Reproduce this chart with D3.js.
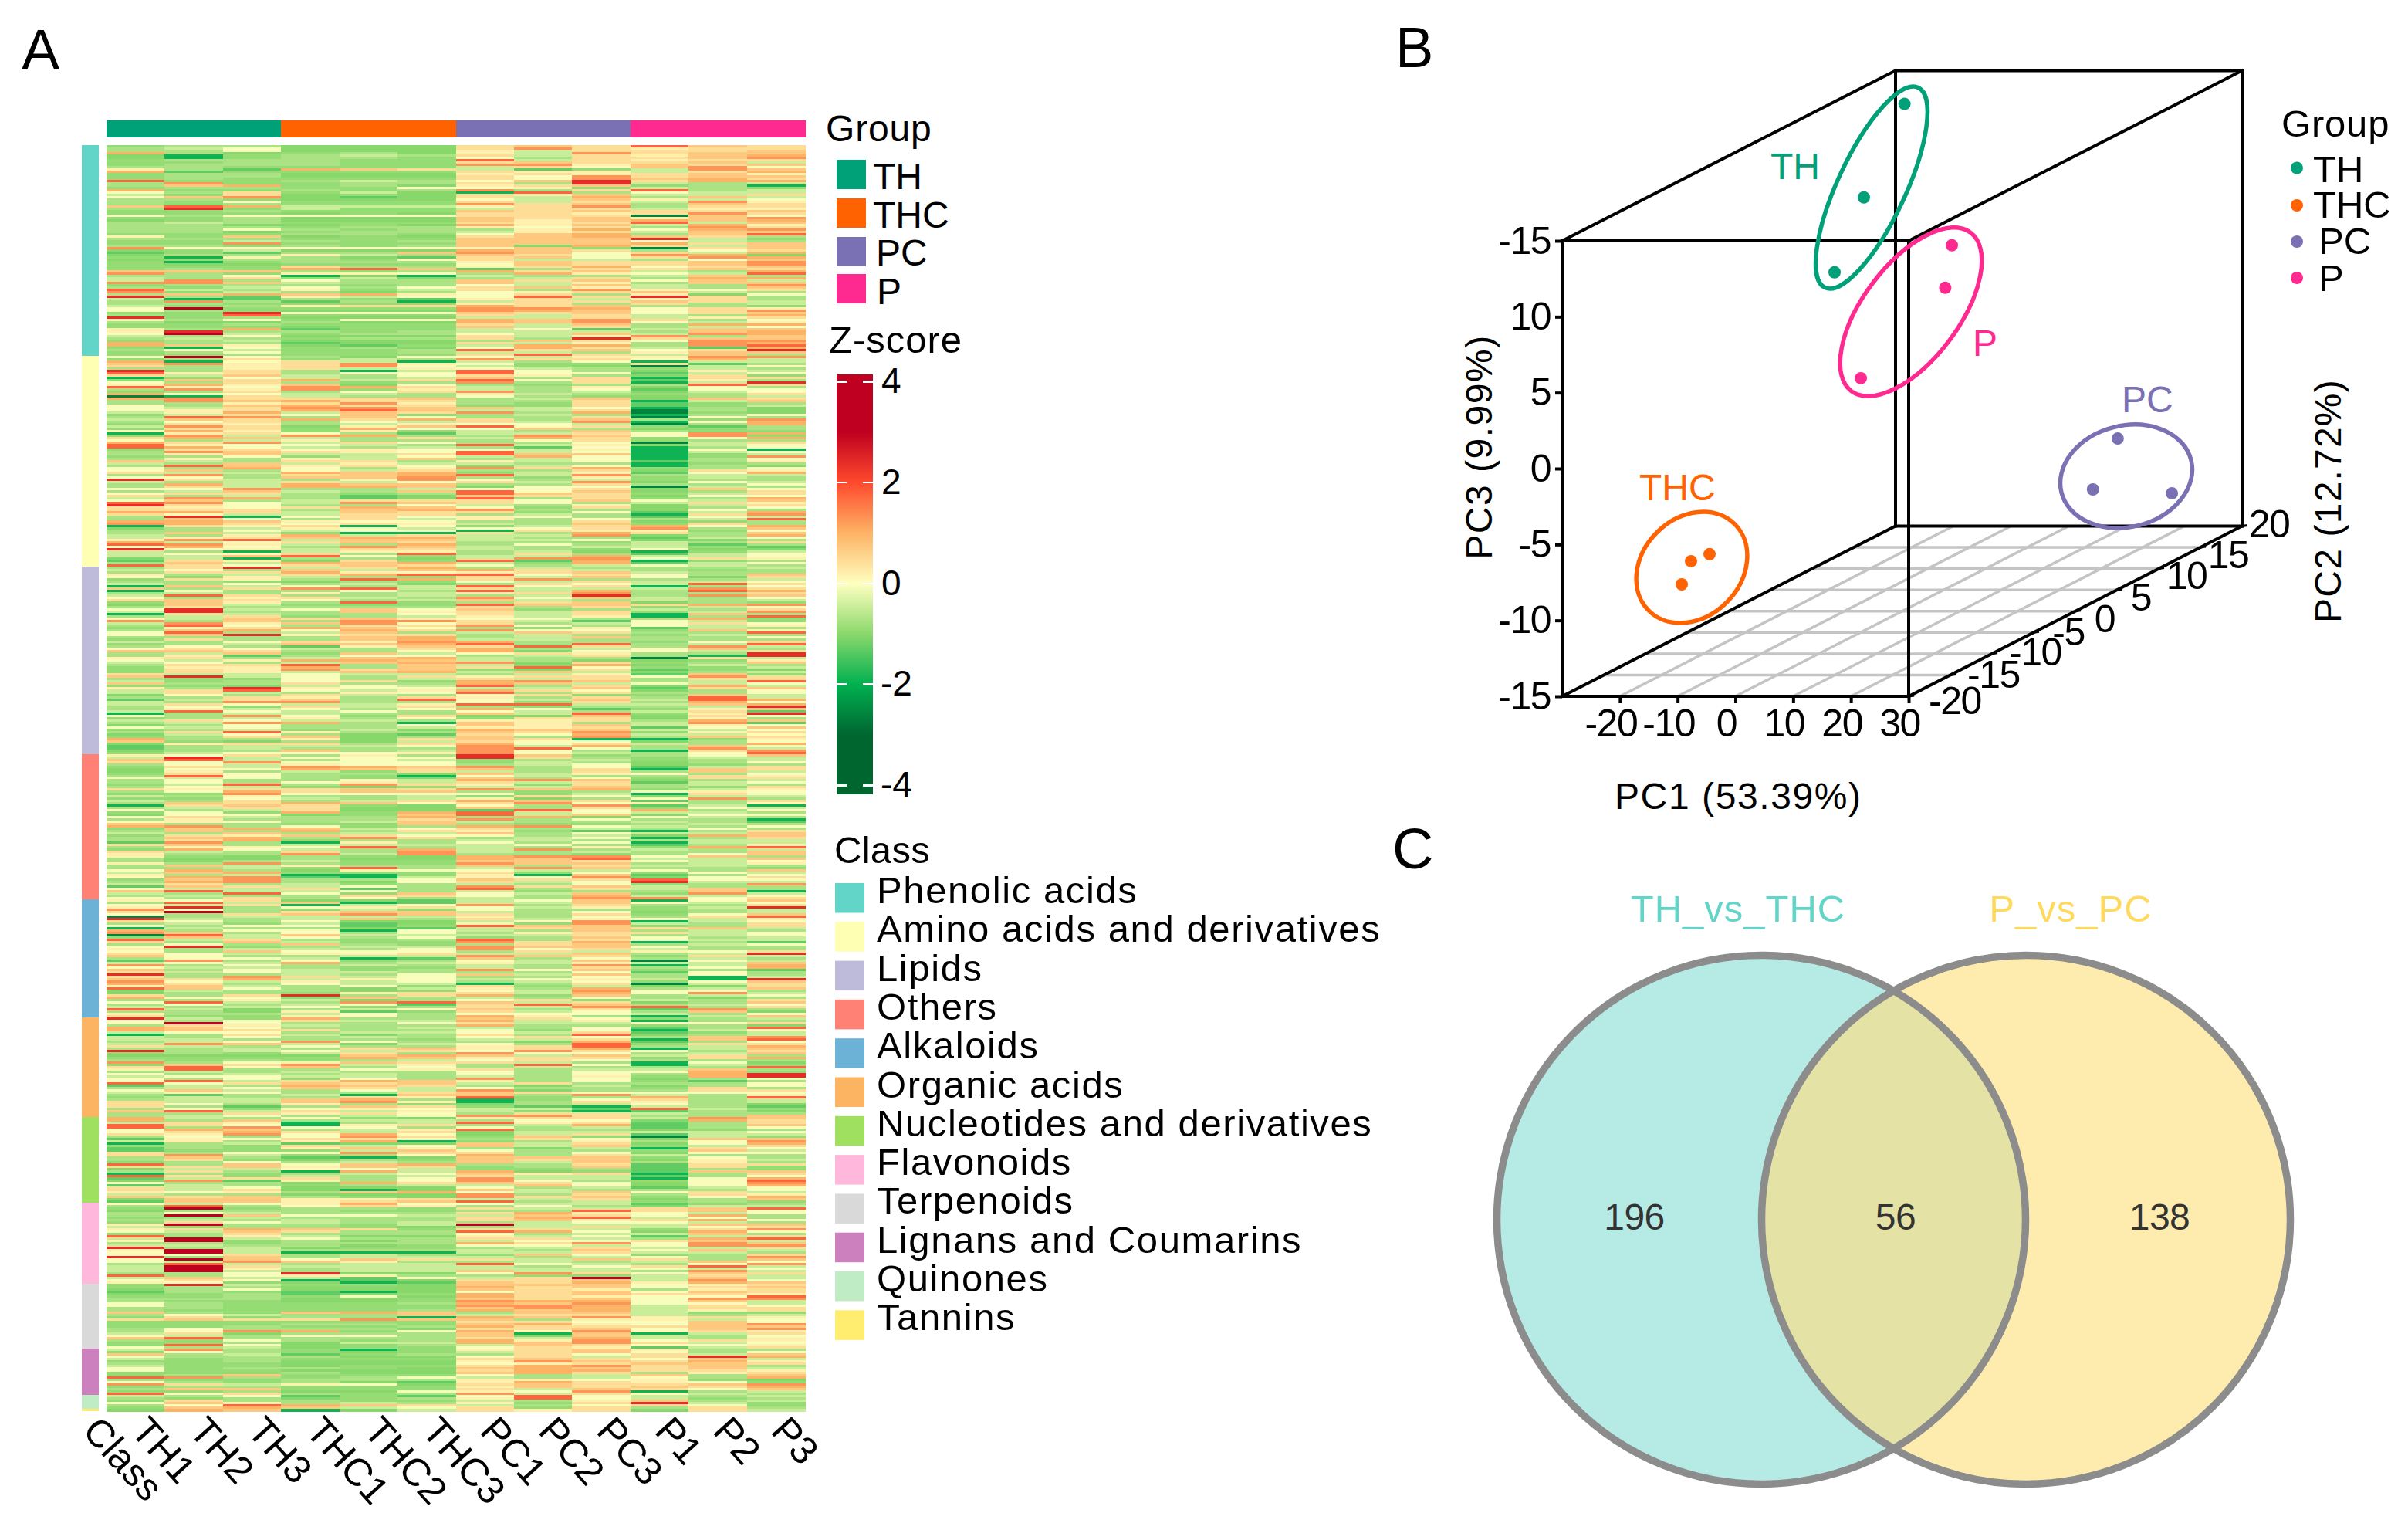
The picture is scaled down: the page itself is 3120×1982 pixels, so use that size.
<!DOCTYPE html>
<html><head><meta charset="utf-8">
<script src="https://cdn.jsdelivr.net/npm/d3@7"></script>
<style>html,body{margin:0;padding:0;background:#fff}svg{display:block}text{font-family:"Liberation Sans",Arial,sans-serif}</style>
</head><body><svg id="c" width="3120" height="1982"></svg>
<script>
const sampleNames=["TH1","TH2","TH3","THC1","THC2","THC3","PC1","PC2","PC3","P1","P2","P3"];
const groupNames=["TH","THC","PC","P"];
const groupColors=["#00A078","#FF6200","#7A70B4","#FF2A8F"];
const classNames=["Phenolic acids","Amino acids and derivatives","Lipids","Others","Alkaloids","Organic acids","Nucleotides and derivatives","Flavonoids","Terpenoids","Lignans and Coumarins","Quinones","Tannins"];
const classColors=["#63D5C8","#FFFFB3","#BEBADA","#FF8074","#6BB2D6","#FDB462","#A0E060","#FFB8DC","#D9D9D9","#CD80BE","#C0ECC5","#FFED6F"];
// each letter is one cell; see levelLetters/levelValues
const levelLetters="abcdefghijklmnop".split("");
const levelValues=[-2.6,-1.9,-1.3,-1.02,-.9,-.72,-.45,-.05,.2,.45,.72,1,1.3,1.75,2.4,3.3];
const zStops=[-4,-3,-2,-1,0,1,2,3,4];
const zColors=["#006630","#006630","#00B050","#8AD86C","#FFFFC0","#FDB365","#FF4A2E","#C00020","#C00020"];
const zTicks=[4,2,0,-2,-4];
const phenolicRows=[
"eff ddd jkj nkj","fgh ddd jmj ijj","ffh ddd igj jjk","lfd efd igm jkk","dbe fgf jgj ikl","dbe ffe hfj jkm","eff fee ngj ijj","eef fee jkj jkg",
"eff fee mmi kjk","ffe eee gjh kmh","ifc lkj gce gmk","lce eee jii gjl","eff ddd iji jki","eff ddd jhm jkk","efe eee jhm klj","nee fgf hko jll",
"fme eff jfo gfg","fkl efd ijk efb","eff eeh hie gfe","lee fef mfj nfg","hfj egd bnf hgg","gej ded jik ggj","hkm dcd jgl fkg","ffe ddd hgk igh",
"feh eee jgj gmi","fef eee mjk fkj","knl ggg ijm fjj","foe gee gjj gii","eef eee kjk jjk","eee ded jji jmj","hfh hhh jjj akh","eef ddd kjk ikm",
"def ddd kik lkl","fgf eee jij ngk","ffd ded lik gli","fff eff ihj fmj","ffh fef fil hlm","ffd eff gij gkk","eee ffe hkl fkn","iek ded jkl kjf",
"fff eee kkk oge","eeg fef kkk hgf","eem eee kkk ljk","ffe fef kdl jgk","mhh hhh ike ajk","deg ddd lkj fhj","cec ffk mkh jgl","dff igf kjh mld",
"ebi fdc jkh jml","def feh jgg fhk","ebe fff ikj jkm","edd eee hkj jkm","eee jff ijl hjk","efe lnk cfj jkj","kkk fef ljk gfl","mfe iih fli hgn",
"ffh bdb gff gkf","gfj egd fgj fll","gmf hff kjk hkg","mmk gff kgi fkk","eff fef hgk gfm","feg hfh jki gfk","ngf ieg jfm ihj","meg fdf hij kgf",
"fkl kli hjf idh","ofc igh hnj ojf","gbc fec ijg ijf","fmf cfb gjj kjg","ffe eee ijf jfg","gef ijj ljk ffe","hpe eee mml hji","hfe ddd mlk hjm",
"eeo hhh kjk hjk","fen eee jgj gfl","oef ddd ggj gij","ifh ehh lkm jfh","fdd fdd lkm hgi","eef eee jgk fll","eee dee kgj fgh","ifl cee ghc gkk",
"iof fef ggg fkl","hpg eff hgk gml","gfh ddd jgi mfk","fgf eff jfo jkk","efg ddd fkj hmm","lff cdd jgi fml","lki dce gll fmn","ebh efd hlj gcl",
"fhg eef njk hjo","efh eef ggf ikk","eef eee jnj gkf"];
const aminoRows=[
"hph fdh hgi imm","efj egf mjj hlg","lbh jgb gfh bgg","kmi jmi hee jcf","jfi jmh ged agh","ffi jgi hgf egf","ofj fbg nhf dig","nij fhh nhh cgh",
"jgk gfh jif dje","beh gfg kfj bjj","ekj lgj nhj cif","hfj fef mfj bgo","ili kdh fef fnj","nih mlj gfi dhf","fmi mei gfh chh","efj fhj mfg dgh",
"lhh ggf igf efj","abj gff hfe dfg","lmj jjk fgk dkj","fmk ljj ffj bgk","ffi jmi fej cef","hfk ljj eej ceg","hgj mmk kgh bfd","hij lnk ggj afd",
"gil gkj mfl aed","egj hke fgf bfh","fnm fkh ffj ahf","gkj ljl jfk fem","fhj fhg jgm bhl","eji fgi hhg afl","gmj dik nhj ecf","ejj elh hkf def",
"hli eie gfk fee","bij hfc ggj hml","emg mlf fmk hme","jlk gfj glj ehl","hfg iff fhj eff","ljm gjh ffh agj","nih hgf ngi dgh","nlh gfg fch bfh",
"ejj hih hgi bhb","fmk jih ngh bgh","fik ggj nkk beg","efh egh glh bem","fif igk fgh bfh","kgf jjf igh cfi",
"gfk gig gff bef","fnk ijh dgh bfd","hfl hfi mjl efh","hkf hgj ffj dji","jgg lkl egi chl","fmf jkl ngm fgg","hhf kkm fei egf","ojg fim hfg eff",
"gfg jgh jgm dhg","flg lkk ffj ffh","fjg llk dhh agf","hhm ffg hhj dkh","fgk gfk nhk dfj","hjj fef nkj egj","jfg fcd kjj dhh","gml fcd nfj efl",
"hkf gjj jhk hgk","nmh gmk jhf gji","ojh ffh gfi dgj","jih jlk hej dfh","jjj fkl mff dhf","llj gkj jeh cgl","jhg gjj fgf bjm","fob hjh ihf chg",
"fkh fjg ifh fgn","llk ihh ffj def","mlj hji gfk ejf","bji jbh egj lhl","dfg ihg hhj mfk","ffh ghh bji ieh","fkg ebb jfl jfk","gfi lgj ggm dfl",
"gij kll gff cgh","imn gkk ggh ddf","lgh jkj ffe gfj","nmi gfl fhf gcf","hlh fmk gfg gec","ohi gjj gfe hdd","gfb gii fgd beg","ghh jfn fjf cgh",
"ggk nhe ggl ggh","dgb ffd gmm hji","cji dje ncl bef","fkg lkl gel cgh","njh jkj hfg hgf"];
const lipidRows=[
"fjo gjl fgf ffg","ghf kgk ljg fef","fjj lih ijk gff","ifg jln nhj hfk","hei gfe jgk hdj","eji fnl jmf ffg","ffe dfe hgj ggh","gfh fgd fjh gnj",
"bkg hfg nhj bfh","kfj mng jgg gmj","bhf fhf ngl fnl","fgf ifg ijm ffj","gnj ffg fgo fmk","hfi jgf mhk gfh","jkj hfg kgf gfg","eki fne fjk dfe",
"dkg eee nkk jlm","fjf fff jfj egh","hog hkh kef gfj","gof fki jgj egm","bjg ffh jgj bkf","fgj efg igi bfn","hgk jki hhf fle","mfk fmm jgc hge",
"gmi kmh jfg hjh","fnh fjj mhf hgi","eij lkh fei cgf","fkl hlj mhh eki","hnf gkf gkj ffn","hko ijj fgf egf","fff fkl fgk ffh","ejf fkl ggf fff",
"gfh jim lff ehj","efg kkl nfn fgn","fhf cik jnj fmg","hjh gfj lfg hkf","kkj ffh ldh hgj","fgk ekg hji ffo","fic fhh fgj fbo","ijf gkl gff ajg",
"hgi llk gfd dei","ghf gkl mdj efk","fjj nfk gdl dgf","eii lfk jnh eeg","eji mjk edj ced","eji gkl gkg dfg","jgg hgg fgi cke","kog hfj ijj hmj",
"fee hfg jgj fjj","gef hje lmk fgn","kff jff lkg hgh","eed ghg nfj dlg","ifo ihh ggk cjk","gjn hgi ljh dfh","gjg fih nfj ffh","dhf jgf hje ekg",
"ffj ifj ifj fng","cgj kfn hgk gnl","gfm mff hej flh","gjh ggi nng gkl","fhe jgj fef fgo","fig hfh lhc eik","gnh ghf hgf gjc","bfg gff kgn eio",
"hfm hej ddk djh","efg ifh ejj dif","gjh ggf iij flk","fgm lfb kif gmc","dfh ffh kik gih","hgh ffg iij chk","efg egd lkk ggh","fjn iff kjm eij",
"dgh fdc jhl ggh","efj kdf kfm fkj","lff idj kjb bei","ked fdg jhh dfh","dij jfj lhj gfl","cfg ggh mgl fkh","cfg fff mnh fmg","dff kfg mhf bjm",
"egh hhi mhg fhn"];
const otherRows=[
"ihj fif oke fhk","gog hhh ojf egg","kng fhg efg efg","jhm hhh egf dfh","fhg ihh fgh def","ejg mlk mfh cgj","dhh lkj kfj bkj","dif gej gfj fkg",
"ejh ffd kgi hfh","fnh feb hgf fji","hgh fed kfh ejj",
"fhf fhg lmk dfg","fhf hig jgj cgh","egn fmj iej fgf","fhg ede ggk fej","jij jkj mkl egi","fhl jkk fef hih","eem hhh heg bjh","gfi ffg ejh dgg",
"eeh gfg idf hmf","gfj fgj lkj cfj","fkj lkh jmh ifh","bjk jed hfm cgb","fgj jdd kfj ehg","hfg jdd cnh lfh","ehe lel ngh ggf","dhh dek ngk dhh",
"hjg ffl fld hgf","fif ffj mfh ffb","hih fgk gff gfc","kff eek fee fgf","lmf hef lmh gfh","ekl kgh jfg fhf","fkf lfj iec bfj","gfk fgg kfh ggk",
"eji kjh hfg dlk","fkl fmj fgh bfj","fjl eff ggf fgg","cmf bif hfh bgg","jkf ggg ghf cfi","fii hnf gfi eln","elh gfl gmf gfg","jgf jfm gfg ffk",
"iff mgm ffe fhk","ied fed lmm hkf","fdd fdd lkn ggk","fdf gee kkj hgh","ifm fee mkk fgi","fkg iff kfj ggf","ffg enf gmk ffe","hlf dih hgg hfk",
"gkl eee jeh ehg","ifg bbe ibk cfh","hlm cbg ihm dhj","ekm ffh kjj nhh","flm fdh jgh ogg","gjf gef gfh efm","ckj ghf mjk gff","hgg jcf nfj gkf",
"kng ghf gef fkb","gfn hek hgk emg","fgf fjj hfl ggh","hfj fhf gfm mhj"];
const alkaloidRows=[
"ihj ddc ghk bhk","fng kbc ggk hgh","hgj bgh mfj ffj","iof hij hgi ego","mhf ege hff efg","jpf jkk gfh dfg","hfj kmk jfj ehk","afg ggg ifh fjn",
"ogf gkf jgi hgi","jhf hdd ghm bgh","fge gcd iem gfj","hfh hce nkk efj","bgf fdc gjk jkg","lfh hbh gfk fgf","mkf hfh fij jgh","ang kgg ggj fgh",
"ekg hfh efk hfg","ngj fef nfj hgg","jfk gee mjl bfc","fhf kfe fjk fgh","hoe fgg mkk hff","ifg gfh mhj gff","hfk hhh fjg ihj","jhg iij ggk fgo",
"khf fgg mkj ejg","fhh gbc kfh fgf","cmf hef hgk ahg","ghg lfg igi ggk","mfh fgf gfm bgl","hgg fee gfj fhl","kfh gef mhk efc","jgh ggf ffh chf",
"off gfh kgk fhf","jfm jgh ffh fbg","kjl gih ghi gbo","mhg igh fgh ehk","ljf hgg bfj agj","ikg fhe jeg ddj","nkh fdg ifl fgk","dgf fde hgm hhf",
"dff eij jgl hmg","jfj ofj lek fgh","lhh ekf gfh fdf","ffi gdf hje gfj","hng fmn kgj dfk","fhf ghc jnk fgh","gfg hef jgm nfj","ngd fgh kfj cmf",
"ffd ice jgh fkd","iff ghf hhh gfh","jee ihf lif bgk"];
const organicRows=[
"oge lff kjh efg","hfh jgg lgi bff","hph ffh jgg hhj","fji gff lff efd","lkh ffg gfh cfn","lkj jff heh bgh","ghh fgg hgj ceg","bfj gdf jfn dfg",
"gfh fgf hjh fkm","ggf ffe ggj bkn","fgh mhf fdl cfh","gmk gdg hfn ejj","jgf hff ijn fgl","ffg fjk ijl bgk","ofg hgj hmj hfj","efe gjf mhh fgk",
"ddd dkl kgk gjf","eee elk ijj ejl","fef efg hjh fff","mfh ikj jgf bhd","ekj mgi fnh bge","jnh kfh fgf ffn","inf fhi jfg gkf","fgf gff hfh hle",
"hfg fgf hfh flo","ghh ggf gfi elo","hfh ehf mfh dfh","hng jlk ifh ecf","nhj kjk gjf ffh","cgf lkj fdg dfh","fgh kjg hff ejf","hkg fhg mdf fjj",
"gih ffj kjh hhh","fcf gbk kfm gfi",
"egf fji nef lfn","fgg klf beh jfg","jgg kmi bfj ifg","jhf ife dfg hfd","jfc fkj ecb gfc","fhe hih ggc nge","kng jgi geb cfd","ffj ijh fjj gff","fgh fgh mmj ffk"];
const nucleotideRows=[
"lgf hed ijj gmk","lfk fgg fhh dlj","gji bfg nij cfj","njh bij fgl cfk","nfm hhf hfg cfh","hlk fgi nff def","hjl jgj dgg ggh","jim hlh dgj cgg",
"fhf hmj eke age","cih jjh fjh dkk","gif ilb efi fhm","bfg cdd kgj dhl","efe jgh kgk egj","cfe iki fdg bjh","cee egk hff ekg","jfh hmj jfh dhh",
"jmg efh lfj gff","fkf cbd kkk ehf","fje dfe kjk dig","efh fgf kgk fif","nfk hkl ffj cjj","jjk ikj efk cje","dgg hhg eef cfe","fjf blg lde ckk",
"bfe fgh kij bfj","nje gfg jgg cfh","cgj jfh mgg bhl","dmc ifh mhf ehn","hff dlj kjh dhm","cgf efg gkh dhl","jgh ddd hfg cgh","jgj dbd kgf ffh",
"ihi fkl hgk hjg","gff ddd mfj fji","kjk fed mjk ehl","dkk iij ggj dfk","ckk ijk nfg efe"];
const flavonoidRows=[
"hgh ilh hgg cef","fnf hji fhf dgg","epe ffe jgg jkn","dff fee ffn jkh","fhg fff jli hgh","fpk hhg gkj hlf","efg fff jln ghf","fgf gff jki jlh",
"ejh gfg fgh hgf","ipf feg pgg gkk","gef fed fgj ghj","ijl kje jjg ejm","hgk jff nlh dlh","efj fff hfg gkf","nfi gdd igh cgj","gpg hff jjg fln",
"ipe fdf ghh jkg","ffe fff ljm hmk","ggf fde hhg hmm","ofg dee fgj ggj","ipg fff gfk hkg","hpg bbb ggj ggf","hhj fgf ekh efj","ofk fgg gfg hfm",
"hpk hkj jgk jfk","hgm kif fgf gkh","fng fgg nhg fhm","gpj ggg gfh jng","gpi fgg ggg hgh","gpg fgg kgg fmg","ffh odd hmj hkj","nfh iif fee gjg",
"gkg gch gjp gkg","hjh bcd jjk gmh","ihe dbc kjl ilk"];
const terpenoidRows=[
"eog eed kkk hij","eff ddd ljk hjk","dfh ddd kji fij","cfe cbd hjk hkj","def cde ljk jji","eef ehd lji hhn","fff dde kjk hmm","fee dde mll hkg",
"hfe eef lkm hhg","hfe eee mml gjh","ffe eee kml gjj","fee eef lkl gij","kfe klk fkk gee","fhg ffk gjj gfg","eje ffb lkm iji","jkj jmk kfi igh",
"eee eee jjh hkh","eee ffe kli hkm","eef eef ljj jkk","fhf ffd jjk hkm","fhm leh lhm hji","gjd fff kbk bgj","hgf hhf kdk gfh","knf fff jgl gfi",
"feh fef lim hji","eef dgg lkm jgh","enh def gkj hhi","hfg dee hji cgj"];
const lignanRows=[
"gmf ebe ijk iff","ehf ede gjk hfh","kfg cef fjh jgk","hff fdd hjg jol","gef eee jkj hkg","eef ddd imk jli","fee ddd hij kkj","gee dee jlm jkf",
"hef fed klk jkg","hee ddd jll jji","eee fdd klj fij","efk eee hfg kfk","nmf efh gfg hfl","fee fff iih ied","hfe fdc ilj ihe","mjg ihd jkj jkm",
"eff eee ikj kjl","fkk eee jgk jhk","eef ddh ihm bfg","nhj fef mgj hgf"];
const quinoneRows=["gfh cec hnh gfg","fef def inh gef","ejf fee gfi kfg","hki fgf iej oge","fhn lkj gfh jhe","ekl kgh jej fjf"];
const tanninRows=["dlk bdg jij djg"];
const pc1Ticks=[-20,-10,0,10,20,30];
const pc2Ticks=[-20,-15,-10,-5,0,5,10,15,20];
const pc3Ticks=[15,10,5,0,-5,-10,-15];
const pc3TickLabels=["-15","10","5","0","-5","-10","-15"];
const pcaSamples=["TH","TH","TH","THC","THC","THC","PC","PC","PC","P","P","P"];
const pc1Values=[-16.9,-21.05,-20.35,-16.02,-19.23,-20.83,22.9,21.5,29.4,-0.04,1.7,-4.26];
const pc2Values=[12,10,6,-12,-12,-12,10,8,12,6,4,-2];
const pc3Values=[15.05,9.45,5.64,-7.88,-8.34,-9.87,-6.43,-9.22,-10.6,7.42,5.18,0.91];
const vennLabels=["TH_vs_THC","P_vs_PC"];
const vennCounts=[196,56,138];

// ---------- layout ----------
const L={left:138,right:1043,top:188,bottom:1828,barTop:156,barBottom:178,classX:106,classW:22};
const svg=d3.select("#c");
const txt=(g,x,y,s,size,opt={})=>{const t=g.append("text").attr("x",x).attr("y",y).attr("font-size",size).attr("fill",opt.fill||"#000").attr("text-anchor",opt.anchor||"start").text(s);if(opt.ls)t.attr("letter-spacing",opt.ls);if(opt.transform)t.attr("transform",opt.transform);return t;};
txt(svg,28,90,"A",74);txt(svg,1808,87,"B",74);txt(svg,1804,1125,"C",74);

// ---------- A: heatmap ----------
const classRows=[phenolicRows,aminoRows,lipidRows,otherRows,alkaloidRows,organicRows,nucleotideRows,flavonoidRows,terpenoidRows,lignanRows,quinoneRows,tanninRows];
const letterValue=new Map(levelLetters.map((l,i)=>[l,levelValues[i]]));
const rows=classRows.flat().map(r=>r.replace(/ /g,"").split("").map(c=>letterValue.get(c)));
const x=d3.scaleBand().domain(sampleNames).range([L.left,L.right]);
const y=d3.scaleBand().domain(d3.range(rows.length)).range([L.top,L.bottom]);
const z=d3.scaleLinear().domain(zStops).range(zColors).clamp(true);
const heat=svg.append("g").attr("shape-rendering","crispEdges");
rows.forEach((r,i)=>{heat.selectAll(null).data(r).enter().append("rect")
  .attr("x",(d,j)=>x(sampleNames[j])).attr("y",y(i)).attr("width",x.bandwidth()+.5).attr("height",y.bandwidth()+.5).attr("fill",d=>z(d));});
sampleNames.forEach((s,j)=>{const gi=Math.floor(j/3);heat.append("rect").attr("x",x(s)).attr("y",L.barTop).attr("width",x.bandwidth()+.5).attr("height",L.barBottom-L.barTop).attr("fill",groupColors[gi]);});
let start=0;
classRows.forEach((c,i)=>{const y0=y(start),y1=start+c.length>=rows.length?L.bottom:y(start+c.length);
  heat.append("rect").attr("x",L.classX).attr("y",y0).attr("width",L.classW).attr("height",y1-y0).attr("fill",classColors[i]);start+=c.length;});
const colLab=(s,cx)=>txt(svg,cx-8,1855,s,50,{transform:`rotate(48 ${cx-8} 1855)`});
colLab("Class",L.classX+L.classW/2-4);
sampleNames.forEach(s=>colLab(s,x(s)+x.bandwidth()/2));

// group legend
txt(svg,1070,183,"Group",48,{ls:.8});
const gLegTop=[207,257,307,355],gLegX=[1131,1131,1135,1136],gLegB=[245,295,344,394];
groupNames.forEach((g,i)=>{svg.append("rect").attr("x",1084).attr("y",gLegTop[i]).attr("width",38).attr("height",38).attr("fill",groupColors[i]);txt(svg,gLegX[i],gLegB[i],g,48);});

// colour bar
txt(svg,1074,457,"Z-score",49,{ls:1});
const zy=d3.scaleLinear().domain([4,-4]).range([494,1017]);
const cb=svg.append("g").attr("shape-rendering","crispEdges");
cb.selectAll("rect").data(d3.range(zy.invert(485),zy.invert(1027),-8/523)).enter().append("rect")
 .attr("x",1084).attr("width",47).attr("y",d=>zy(d)).attr("height",1.5).attr("fill",d=>z(d));
zTicks.forEach(t=>{[1084,1118].forEach(a=>cb.append("rect").attr("x",a).attr("y",zy(t)-1).attr("width",13).attr("height",2.5).attr("fill","#fff"));
 txt(svg,t<0?1141:1142,zy(t)+15,String(t),46);});

// class legend
txt(svg,1081,1118,"Class",49,{ls:.3});
classNames.forEach((c,i)=>{const b=1170+50.3*i;
 svg.append("rect").attr("x",1082).attr("y",b-26).attr("width",38).attr("height",38.5).attr("fill",classColors[i]);
 txt(svg,1136,b,c,49,{ls:1.6});});

// ---------- B: 3-D PCA ----------
const F={l:2024,r:2473,t:312,b:902,dx:432,dy:-220.5};
const sx=d3.scaleLinear().domain([-30,30]).range([F.l,F.r]);
const sz=d3.scaleLinear().domain([-15,15]).range([F.b,F.t]);
const st=d3.scaleLinear().domain([-20,20]).range([0,1]);
const proj=(a,b,c)=>[sx(a)+st(b)*F.dx,sz(c)+st(b)*F.dy];
const B=svg.append("g");
const line=(g,p,q,col,w)=>g.append("line").attr("x1",p[0]).attr("y1",p[1]).attr("x2",q[0]).attr("y2",q[1]).attr("stroke",col).attr("stroke-width",w);
const grid=B.append("g");
pc2Ticks.slice(1,-1).forEach(v=>line(grid,proj(-30,v,-15),proj(30,v,-15),"#c4c4c4",3.5));
pc1Ticks.slice(0,-1).forEach(v=>line(grid,proj(v,-20,-15),proj(v,20,-15),"#c4c4c4",3.5));
const box=B.append("g").attr("stroke-linecap","square");
const cor=(a,b,c)=>proj(a,b,c);
[[[-30,20,15],[30,20,15]],[[-30,20,-15],[30,20,-15]],[[-30,20,-15],[-30,20,15]],[[30,20,-15],[30,20,15]],
 [[-30,-20,15],[-30,20,15]],[[30,-20,15],[30,20,15]],[[-30,-20,-15],[-30,20,-15]],[[30,-20,-15],[30,20,-15]],
 [[-30,-20,15],[30,-20,15]],[[-30,-20,-15],[30,-20,-15]],[[-30,-20,-15],[-30,-20,15]],[[30,-20,-15],[30,-20,15]]]
 .forEach(e=>line(box,cor(...e[0]),cor(...e[1]),"#000",4));
// axes
const axZ=B.append("g").attr("transform",`translate(${F.l-1},0)`).call(d3.axisLeft(sz).tickValues(pc3Ticks).tickSize(8).tickPadding(6).tickFormat((d,i)=>pc3TickLabels[i]));
const axX=B.append("g").attr("transform",`translate(0,${F.b})`).call(d3.axisBottom(sx).tickValues(pc1Ticks).tickSize(9).tickPadding(7).tickFormat(String));
[axZ,axX].forEach(a=>{a.select(".domain").remove();a.selectAll("line").attr("stroke","#000").attr("stroke-width",4);a.selectAll("text").attr("font-size",50).attr("font-family",'"Liberation Sans",Arial,sans-serif').attr("fill","#000").attr("letter-spacing",-1.5);});
axX.selectAll("text").attr("dx",-12);
const pc2LabelDx=[60,56,56,45,38,31,36,36,35],pc2LabelDy=[23,17,15,17,27,27,26,27,14];
pc2Ticks.forEach((v,i)=>{const p=proj(30,v,-15);line(B,p,[p[0]+7,p[1]-1],"#000",3);
 txt(B,p[0]+pc2LabelDx[i],p[1]+pc2LabelDy[i],String(v),50,{anchor:"middle",ls:-1.5});});
txt(B,2092,1048,"PC1 (53.39%)",48,{ls:1.6});
txt(B,0,0,"PC3 (9.99%)",48,{ls:1.5,anchor:"middle",transform:"translate(1933,579) rotate(-90)"});
txt(B,0,0,"PC2 (12.72%)",48,{ls:1.2,anchor:"middle",transform:"translate(3033,649) rotate(-90)"});
const ellipses=[[2425,243,46,145,25],[2192,735,66,81,45],[2755,617,67.6,88.6,76],[2476,404,64,130.5,37]];
const ellLabel=[[2294,232],[2124,648],[2749,534],[2556,461]];
groupNames.forEach((g,i)=>{const e=ellipses[i];
 B.append("ellipse").attr("rx",e[2]-2).attr("ry",e[3]-2).attr("transform",`translate(${e[0]},${e[1]}) rotate(${e[4]})`).attr("fill","none").attr("stroke",groupColors[i]).attr("stroke-width",5.5);
 txt(B,ellLabel[i][0],ellLabel[i][1],g,48,{fill:groupColors[i]});});
B.selectAll("circle.pt").data(pcaSamples).enter().append("circle").attr("class","pt").attr("r",8)
 .attr("cx",(d,i)=>proj(pc1Values[i],pc2Values[i],pc3Values[i])[0]).attr("cy",(d,i)=>proj(pc1Values[i],pc2Values[i],pc3Values[i])[1])
 .attr("fill",d=>groupColors[groupNames.indexOf(d)]);
txt(B,2956,177,"Group",49,{ls:.8});
const bLegY=[217.5,266,313,360],bLegB=[235.5,282,329,377],bLegX=[2997,2997,3004,3004];
groupNames.forEach((g,i)=>{B.append("circle").attr("cx",2976).attr("cy",bLegY[i]).attr("r",8).attr("fill",groupColors[i]);txt(B,bLegX[i],bLegB[i],g,49);});

// ---------- C: Venn ----------
const V={cx1:2282,cx2:2625,cy:1580,r:342.5};
const defs=svg.append("defs");
defs.append("clipPath").attr("id","lens").append("circle").attr("cx",V.cx1).attr("cy",V.cy).attr("r",V.r);
svg.append("circle").attr("cx",V.cx1).attr("cy",V.cy).attr("r",V.r).attr("fill","#B6EAE4");
svg.append("circle").attr("cx",V.cx2).attr("cy",V.cy).attr("r",V.r).attr("fill","#FEECAF");
svg.append("circle").attr("cx",V.cx2).attr("cy",V.cy).attr("r",V.r).attr("fill","#E5E2A5").attr("clip-path","url(#lens)");
[V.cx1,V.cx2].forEach(c=>svg.append("circle").attr("cx",c).attr("cy",V.cy).attr("r",V.r).attr("fill","none").attr("stroke","#8c8c8c").attr("stroke-width",9.5));
[2117.5,2456,2798].forEach((px,i)=>txt(svg,px,1593,String(vennCounts[i]),48,{anchor:"middle",fill:"#333",ls:-.5}));
txt(svg,2252,1194,vennLabels[0],49,{anchor:"middle",fill:"#63D5C8",ls:1});
txt(svg,2683,1194,vennLabels[1],49,{anchor:"middle",fill:"#FFD95C",ls:1});
</script></body></html>
